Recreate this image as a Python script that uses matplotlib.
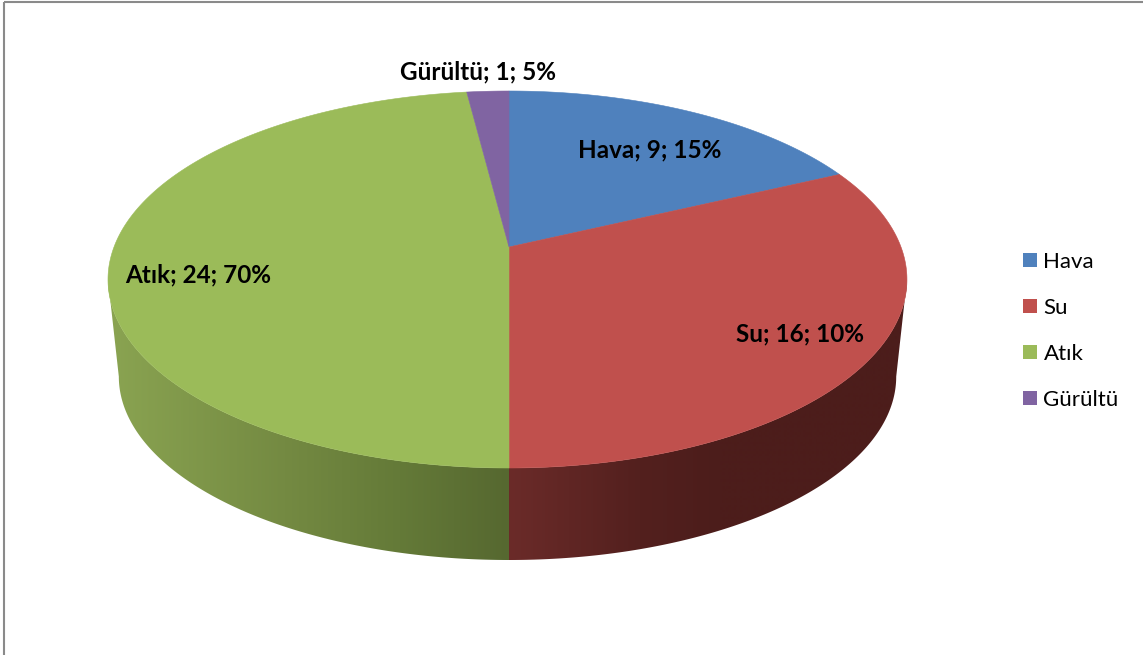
import numpy as np
import matplotlib
matplotlib.use('Agg')
import matplotlib.pyplot as plt
from matplotlib.patches import Patch, Polygon, Rectangle

categories = ['Hava', 'Su', 'Atık', 'Gürültü']
values = [9, 16, 24, 1]
percent_labels = ['15%', '10%', '70%', '5%']
colors = ['#4f81bd', '#c0504d', '#9bbb59', '#8064a2']

plt.rcParams['font.family'] = ['Lato', 'DejaVu Sans']

# pie geometry in pixels, perspective projection of a circle
cx, cy = 509, 247
a_right, a_left, b = 392, 395, 182.9
k = 0.1724
front_y = 468
depth = 92
shrink = 0.973


def project(theta):
    sx, cs = np.sin(theta), np.cos(theta)
    a = np.where(sx >= 0, a_right, a_left)
    d = 1 + k * cs
    return cx + a * sx / d, cy - b * cs / d


def lower(x, y):
    return cx + shrink * (x - cx), front_y + depth + shrink * (y - front_y)


# colour of the side wall changes with x
side_x = {'Su': [509, 640, 720, 910], 'Atık': [100, 285, 400, 509]}
side_rgb = {
    'Su': [(0x6b, 0x2b, 0x29), (0x53, 0x20, 0x1e), (0x4c, 0x1d, 0x1b), (0x4c, 0x1d, 0x1b)],
    'Atık': [(0x8b, 0xa5, 0x52), (0x74, 0x8a, 0x42), (0x64, 0x7a, 0x38), (0x56, 0x68, 0x30)],
}

fig = plt.figure(figsize=(11.43, 6.55), dpi=100)
ax = fig.add_axes([0, 0, 1, 1])

ax.add_patch(Rectangle((3.5, 1.5), 1300, 800, fill=False, edgecolor='#8a8a8a', linewidth=1.5))

edges = np.cumsum([0] + values) / sum(values) * 2 * np.pi

# only the part of the wall between the two tangent points can be seen
th_min = np.arccos(-k)
th_max = 2 * np.pi - th_min

for i, name in enumerate(categories):
    if name not in side_x:
        continue
    th = np.linspace(max(edges[i], th_min), min(edges[i + 1], th_max), 300)
    xt, yt = project(th)
    xb, yb = lower(xt, yt)
    x0, x1 = side_x[name][0], side_x[name][-1]
    xs = np.arange(x0, x1 + 1)
    stops = np.array(side_rgb[name]) / 255
    grad = np.stack([np.interp(xs, side_x[name], stops[:, c]) for c in range(3)], axis=1)[np.newaxis, :, :]
    im = ax.imshow(grad, extent=(x0, x1, 600, 0), aspect='auto', interpolation='bilinear', zorder=1)
    wall = Polygon(np.column_stack([np.r_[xt, xb[::-1]], np.r_[yt, yb[::-1]]]), closed=True,
                   transform=ax.transData, facecolor='none', edgecolor='none')
    ax.add_patch(wall)
    im.set_clip_path(wall)

for i, name in enumerate(categories):
    th = np.linspace(edges[i], edges[i + 1], 300)
    xt, yt = project(th)
    pts = np.column_stack([np.r_[cx, xt], np.r_[cy, yt]])
    ax.add_patch(Polygon(pts, closed=True, facecolor=colors[i], edgecolor=colors[i], linewidth=0.4, zorder=2))

label_pos = [(650, 150), (800, 334), (198, 275), (478.5, 72)]
for i, name in enumerate(categories):
    txt = '%s; %d; %s' % (name, values[i], percent_labels[i])
    ax.text(label_pos[i][0], label_pos[i][1], txt, ha='center', va='center',
            fontsize=17.5, fontweight='bold', color='black', zorder=3)

handles = [Patch(facecolor=c, edgecolor='none') for c in colors]
fs = 16
ax.legend(handles, categories, loc='upper left', bbox_to_anchor=(1023 / 1143, 1 - 252 / 655),
          frameon=False, fontsize=fs, borderpad=0, borderaxespad=0,
          handlelength=10.1 / fs, handleheight=10.1 / fs, handletextpad=0.29, labelspacing=1.165)

ax.set_xlim(0, 1143)
ax.set_ylim(655, 0)
ax.axis('off')

fig.savefig('out.png', dpi=100)
